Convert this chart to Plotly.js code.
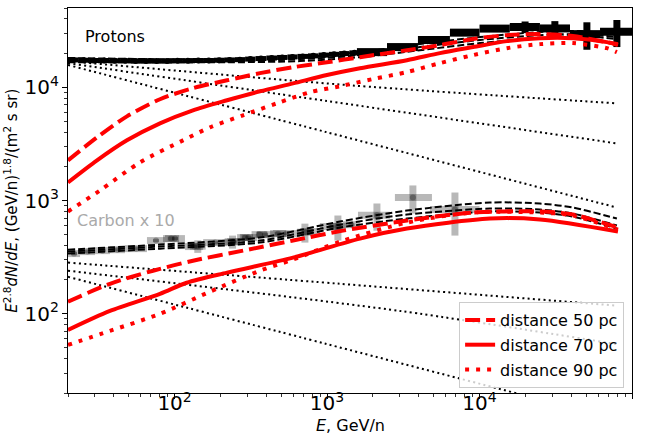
<!DOCTYPE html>
<html><head><meta charset="utf-8">
<script src="https://cdn.plot.ly/plotly-3.0.1.min.js"></script>
<style>body{margin:0;background:#fff}</style>
</head><body>
<div id="c" style="width:646px;height:434px"></div>
<script>
// ---------- Proton data (low energy, fine bins) ----------
const pAmsEdges = [20,23.5,27.5,32,37.5,44,51.5,60,70.5,82.5,96.5,113,132,155,181,212,248,290,340,400,470,550,640,750,880,1030,1200,1400,1640];
const pAmsF = [17400,17300,17200,17200,17100,17100,17000,17000,17000,17000,17100,17100,17200,17200,17300,17400,17500,17700,17900,18100,18300,18500,18700,18900,19200,19500,19800,20100];
const pAmsErr = [300,300,300,300,300,300,300,300,300,300,300,300,300,300,300,300,300,350,350,350,400,400,400,450,450,500,500,550];
// ---------- Proton data (high energy, wide bins) ----------
const pBigE = [1970,3120,5020,8000,12600,19900,31200,50600,79600];
const pBigLo = [1570,2472,3945,6395,10000,15800,24900,39200,61700];
const pBigHi = [2472,3945,6395,10000,15800,24900,39200,61700,110000];
const pBigF = [20400,22600,26100,30300,32900,34000,33000,29400,30900];
const pBigErr = [600,700,900,1000,1400,4000,5300,8000,8300];
// ---------- Carbon x10 data ----------
const cAmsEdges = [20,24,30.1,37.7,47.3,65.9,86.5,117,154,221,268,347,442,664,898,1271,1644];
const cAmsF = [340,354,361,368,376,443,461,392,425,433,471,500,510,532,589,612];
const cAmsErr = [10,11,11,11,11,13,14,12,13,13,14,15,15,16,18,18];
const cBE = [95,142,240,290,360,477,716,1178,2124,3656,6900];
const cBLo = [84,126,213,257,320,423,635,1044,1595,2787,4730];
const cBHi = [107,160,270,327,406,538,807,1329,2585,4875,10000];
const cBF = [461,395,433,470,500,510,525,590,741,1062,833];
const cBErr = [20,50,57,30,30,20,100,147,200,296,343];
// ---------- Proton model curves ----------
const pRed50E = [20,31,48.7,80.2,132,221,363,598,998,1644,3342,5500,9057,15100,24900,40900,68400,80900];
const pRed50F = [2260,3610,5530,7830,9800,11500,13300,15000,16600,18400,21200,23500,26600,28800,29400,28300,25000,24000];
const pRed70E = [20,31,48.7,80.2,132,221,363,598,998,1644,3342,5500,9057,15100,24900,40900,68400,80900];
const pRed70F = [1442,2260,3396,4800,6250,7670,9200,10800,12800,14700,17300,20000,22600,25500,27100,27100,25000,23500];
const pRed90E = [20,32.4,59.3,113.6,171,281,469,773,1216,2000,3342,5500,9057,15100,24900,40900,68400,79600];
const pRed90F = [800,1225,2170,3396,4426,5650,7210,9030,10200,11800,13600,16300,19200,22100,24000,24500,22100,20400];
const pTotE = [20,69,231,664,1644,4064,10070,24900,45500,79600];
const pTot1F = [18100,17700,17700,18400,20400,24000,27700,30700,31300,29400];
const pTot2F = [17300,17000,17000,17700,19200,22600,26100,28800,29400,27700];
const pTot3F = [16600,16600,16600,17000,18400,21200,24500,27100,28300,26600];
const pBg1E = [20,1413,79600], pBg1F = [17000,10400,7200];
const pBg2E = [20,1000,79600], pBg2F = [16300,7550,3190];
const pBg3E = [20,1000,79600], pBg3F = [15700,4000,867];
// ---------- Carbon model curves ----------
const cRed50E = [20,37.7,72.2,132,281,598,1271,3342,9057,24900,40900,80900];
const cRed50F = [128,184,240,294,361,443,542,665,783,800,752,577];
const cRed70E = [20,37.7,80.2,120,221,598,1644,3342,11700,24900,80900];
const cRed70F = [72,106,150,188,231,313,461,565,693,679,532];
const cRed90E = [20,37.7,80.2,171,363,598,1216,3342,9057,24900,40900,80900];
const cRed90F = [53.2,70.7,100,157,240,301,433,638,783,783,736,553];
const cTotE = [20,80.2,363,1216,3342,11700,24900,40900,79600];
const cTot1F = [368,408,471,652,815,960,940,867,693];
const cTot2F = [354,392,443,612,752,849,832,767,601];
const cTot3F = [340,376,425,577,693,800,783,721,565];
const cBg1E = [20,1216,79600], cBg1F = [283,184,118];
const cBg2E = [20,3006,79600], cBg2F = [240,106,54];
const cBg3E = [20,1000,79600], cBg3F = [212,54,11.7];

const legendNames = ['distance 50 pc','distance 70 pc','distance 90 pc'];
const xTitle = '<i>E</i>, GeV/n';
const yTitle = '<i>E</i><sup>2.8</sup><i>dN</i>/<i>dE</i>, (GeV/n)<sup>1.8</sup>/(m<sup>2</sup> s sr)';

function binsTrace(edges, F, err, color, tx, ty){
  const xc = F.map((_,i)=>Math.sqrt(edges[i]*edges[i+1]));
  return errTrace(xc, F, edges.slice(0,-1), edges.slice(1), err, color, tx, ty);
}
function errTrace(xc, F, lo, hi, err, color, tx, ty){
  return {type:'scatter', mode:'markers', x:xc, y:F, showlegend:false, hoverinfo:'skip',
    marker:{size:0, color:color},
    error_x:{type:'data', symmetric:false, array:hi.map((h,i)=>h-xc[i]), arrayminus:lo.map((l,i)=>xc[i]-l), color:color, thickness:tx, width:0},
    error_y:{type:'data', array:err, color:color, thickness:ty, width:0}};
}
function line(x, y, color, w, dash, name, show){
  return {type:'scatter', mode:'lines', x:x, y:y, name:name||'', showlegend:!!show, hoverinfo:'skip',
    legendgroup:name||undefined,
    line:{color:color, width:w, dash:dash, shape:'spline', smoothing:0.8}};
}
const RED='#ff0000', RD='15px,6px', RT='4px,7px', BD='7px,3px', BT='2px,3.3px';
const GRAY='rgba(0,0,0,0.28)';

const traces = [
  binsTrace(pAmsEdges, pAmsF, pAmsErr, '#000', 5, 5),
  errTrace(pBigE, pBigF, pBigLo, pBigHi, pBigErr, '#000', 8, 7),
  binsTrace(cAmsEdges, cAmsF, cAmsErr, GRAY, 7, 6),
  errTrace(cBE, cBF, cBLo, cBHi, cBErr, GRAY, 7, 7),
  line(pBg1E, pBg1F, '#000', 2, BT), line(pBg2E, pBg2F, '#000', 2, BT), line(pBg3E, pBg3F, '#000', 2, BT),
  line(cBg1E, cBg1F, '#000', 2, BT), line(cBg2E, cBg2F, '#000', 2, BT), line(cBg3E, cBg3F, '#000', 2, BT),
  line(pTotE, pTot1F, '#000', 2, BD), line(pTotE, pTot2F, '#000', 2, BD), line(pTotE, pTot3F, '#000', 2, BD),
  line(cTotE, cTot1F, '#000', 2, BD), line(cTotE, cTot2F, '#000', 2, BD), line(cTotE, cTot3F, '#000', 2, BD),
  line(cRed50E, cRed50F, RED, 4, RD), line(cRed70E, cRed70F, RED, 4, 'solid'), line(cRed90E, cRed90F, RED, 4, RT),
  line(pRed50E, pRed50F, RED, 4, RD, legendNames[0], true),
  line(pRed70E, pRed70F, RED, 4, 'solid', legendNames[1], true),
  line(pRed90E, pRed90F, RED, 4, RT, legendNames[2], true)
];

const axisCommon = {type:'log', showgrid:false, zeroline:false, showline:true, mirror:true, linecolor:'#000', linewidth:1,
  ticks:'outside', ticklen:5, tickwidth:1, tickcolor:'#000', tickmode:'linear', tick0:0, dtick:1,
  exponentformat:'power', showexponent:'all', tickfont:{size:16, color:'#000'}, automargin:false,
  minor:{ticks:'outside', ticklen:3, tickwidth:0.8, tickcolor:'#000', dtick:'D1', showgrid:false}};

const layout = {
  width:646, height:434, margin:{l:68, r:14, t:8, b:41, autoexpand:false},
  paper_bgcolor:'#fff', plot_bgcolor:'#fff',
  font:{family:'DejaVu Sans', size:16, color:'#000'},
  xaxis:Object.assign({}, axisCommon, {range:[Math.log10(20),5], ticklabelstandoff:-12}),
  yaxis:Object.assign({}, axisCommon, {range:[Math.log10(20),Math.log10(50000)]}),
  showlegend:true,
  legend:{x:0.986, xanchor:'right', y:0.013, yanchor:'bottom', bgcolor:'rgba(255,255,255,0.8)', bordercolor:'#cccccc', borderwidth:1,
    font:{size:16}, tracegroupgap:1, traceorder:'grouped'},
  annotations:[
    {xref:'paper', yref:'paper', x:0.027, y:0.925, xanchor:'left', yanchor:'middle', text:'Protons', showarrow:false, font:{size:16, color:'#000'}},
    {xref:'paper', yref:'paper', x:0.012, y:0.449, xanchor:'left', yanchor:'middle', text:'Carbon x 10', showarrow:false, font:{size:16, color:'#aaaaaa'}},
    {xref:'paper', yref:'paper', x:0.5, y:-0.0857, xanchor:'center', yanchor:'middle', text:xTitle, showarrow:false, font:{size:16, color:'#000'}},
    {xref:'paper', yref:'paper', x:-0.1024, y:0.5, xanchor:'center', yanchor:'middle', textangle:-90, text:yTitle, showarrow:false, font:{size:15, color:'#000'}}
  ]
};
Plotly.newPlot('c', traces, layout, {displayModeBar:false, staticPlot:true});
</script>
</body></html>
